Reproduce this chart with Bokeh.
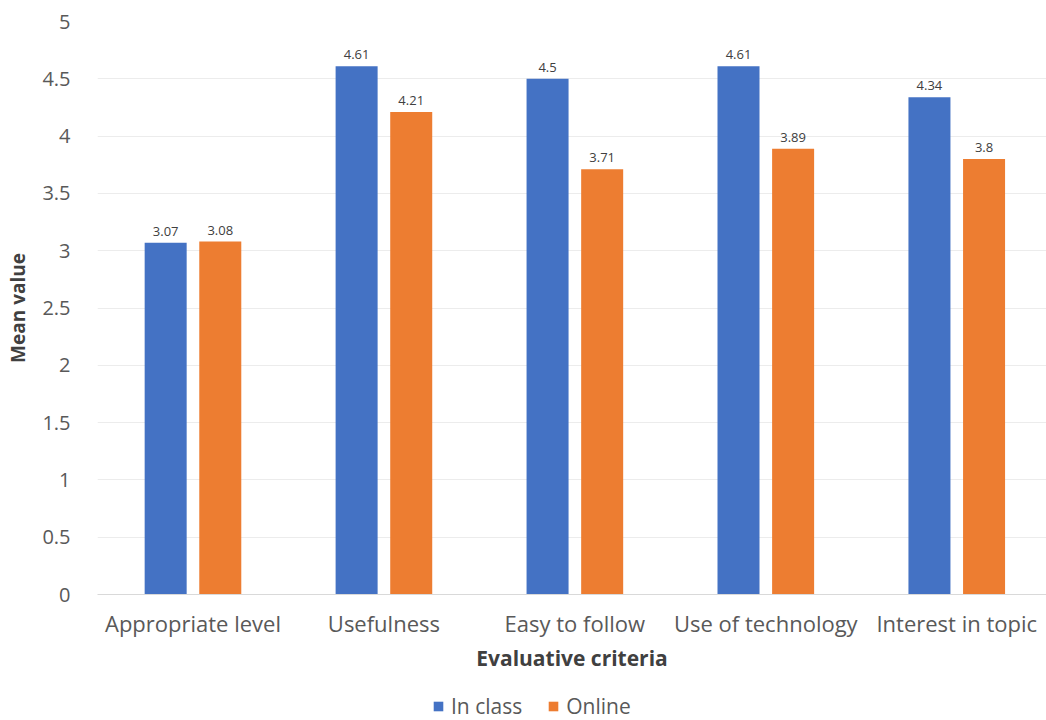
from bokeh.plotting import figure
from bokeh.layouts import column
from bokeh.models import (ColumnDataSource, Range1d, FixedTicker, NumeralTickFormatter,
                          Legend, LegendItem)
from bokeh.core.properties import value
from bokeh.embed import file_html
from bokeh.resources import INLINE

categories = ["Appropriate level", "Usefulness", "Easy to follow", "Use of technology", "Interest in topic"]
in_class = [3.07, 4.61, 4.5, 4.61, 4.34]
online = [3.08, 4.21, 3.71, 3.89, 3.8]
y_ticks = [0, 0.5, 1, 1.5, 2, 2.5, 3, 3.5, 4, 4.5, 5]
series_names = ["In class", "Online"]

FONT = "Open Sans"
BLUE = "#4472C4"
ORANGE = "#ED7D31"
OFF = 0.143
BW = 0.22

idx = list(range(len(categories)))
src_a = ColumnDataSource(dict(x=[i - OFF for i in idx], top=in_class, lab=[str(v) for v in in_class]))
src_b = ColumnDataSource(dict(x=[i + OFF for i in idx], top=online, lab=[str(v) for v in online]))

p = figure(width=1046, height=686, output_backend="svg", toolbar_location=None,
           x_range=Range1d(-0.5, 4.47), y_range=Range1d(0, 5),
           min_border_left=97, min_border_right=0, min_border_top=21, min_border_bottom=92)
p.outline_line_color = None
p.background_fill_color = "white"
p.border_fill_color = "white"

p.vbar(x="x", top="top", width=BW, source=src_a, fill_color=BLUE, line_color=None)
p.vbar(x="x", top="top", width=BW, source=src_b, fill_color=ORANGE, line_color=None)

for s in (src_a, src_b):
    p.text(x="x", y="top", text="lab", source=s, text_align="center", text_baseline="bottom",
           y_offset=-7, text_font=value(FONT), text_font_size="13px", text_color="#404040")

# grids
p.xgrid.visible = False
p.ygrid.ticker = FixedTicker(ticks=y_ticks)
p.ygrid.grid_line_color = "#ececec"
p.ygrid.grid_line_width = 1

# y axis
p.yaxis.ticker = FixedTicker(ticks=y_ticks)
p.yaxis.formatter = NumeralTickFormatter(format="0.[0]")
p.yaxis.axis_line_color = None
p.yaxis.major_tick_line_color = None
p.yaxis.minor_tick_line_color = None
p.yaxis.major_label_standoff = 21
p.yaxis.major_label_text_font = FONT
p.yaxis.major_label_text_font_size = "20px"
p.yaxis.major_label_text_color = "#595959"
p.yaxis.axis_label = "Mean value"
p.yaxis.axis_label_text_font = FONT
p.yaxis.axis_label_text_font_size = "19px"
p.yaxis.axis_label_text_font_style = "bold"
p.yaxis.axis_label_text_color = "#404040"
p.yaxis.axis_label_standoff = 8

# x axis
p.xaxis.ticker = FixedTicker(ticks=idx)
p.xaxis.major_label_overrides = {i: c for i, c in zip(idx, categories)}
p.xaxis.axis_line_color = "#d9d9d9"
p.xaxis.major_tick_line_color = None
p.xaxis.minor_tick_line_color = None
p.xaxis.major_label_standoff = 7
p.xaxis.major_label_text_font = FONT
p.xaxis.major_label_text_font_size = "22px"
p.xaxis.major_label_text_color = "#595959"
p.xaxis.axis_label = "Evaluative criteria"
p.xaxis.axis_label_text_font = FONT
p.xaxis.axis_label_text_font_size = "21px"
p.xaxis.axis_label_text_font_style = "bold"
p.xaxis.axis_label_text_color = "#404040"
p.xaxis.axis_label_standoff = 3

# legend strip below the chart (its frame is aligned with the chart's frame)
lg = figure(width=1046, height=34, output_backend="svg", toolbar_location=None,
            x_range=Range1d(-0.5, 4.47), y_range=Range1d(0, 5),
            x_axis_type=None, y_axis_type=None, min_border=0)
lg.outline_line_color = None
lg.xgrid.visible = False
lg.ygrid.visible = False
la = lg.vbar(x="x", top="top", width=BW, source=src_a, fill_color=BLUE, line_color=None, visible=False)
lb = lg.vbar(x="x", top="top", width=BW, source=src_b, fill_color=ORANGE, line_color=None, visible=False)
legend = Legend(items=[LegendItem(label=series_names[0], renderers=[la]),
                       LegendItem(label=series_names[1], renderers=[lb])],
                orientation="horizontal", location=(335, 0))
legend.border_line_color = None
legend.background_fill_alpha = 0
legend.label_text_font = FONT
legend.label_text_font_size = "21px"
legend.label_text_color = "#595959"
legend.glyph_width = 12
legend.glyph_height = 12
legend.label_standoff = 7
legend.spacing = 25
legend.margin = 0
legend.padding = 0
legend.click_policy = "none"
lg.add_layout(legend, "center")

open("out.html", "w").write(file_html(column(p, lg, spacing=0), INLINE))
